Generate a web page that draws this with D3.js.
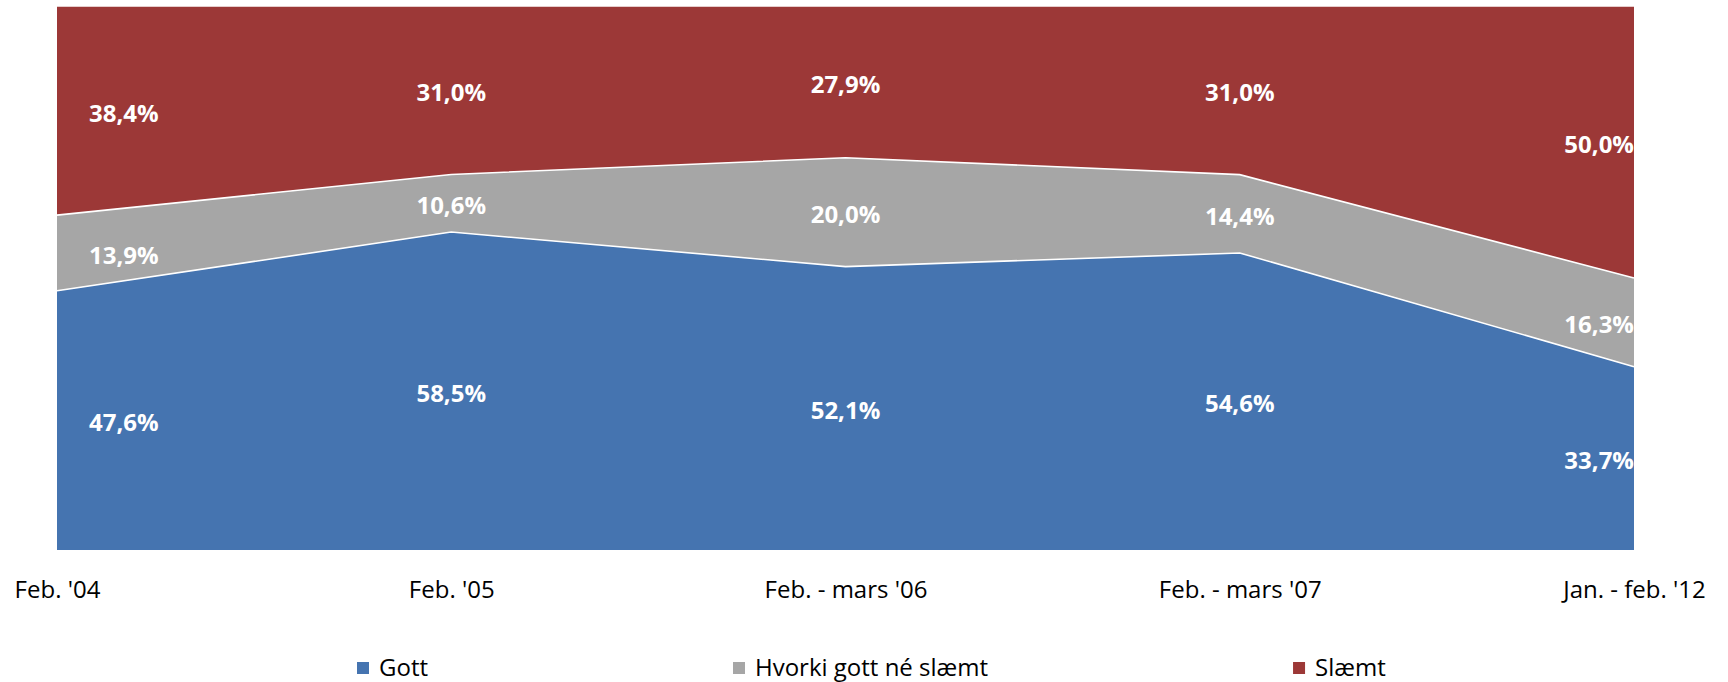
<!DOCTYPE html>
<html>
<head>
<meta charset="utf-8">
<script src="https://cdn.jsdelivr.net/npm/d3@7"></script>
<style>
  html, body { margin: 0; padding: 0; background: #fff; }
  svg { display: block; font-family: 'Open Sans', sans-serif; }
</style>
</head>
<body>
<svg id="chart" width="1728" height="682"></svg>
<script>
const categories = ["Feb. '04", "Feb. '05", "Feb. - mars '06", "Feb. - mars '07", "Jan. - feb. '12"];
const seriesNames = ['Gott', 'Hvorki gott né slæmt', 'Slæmt'];
const gott = [47.6, 58.5, 52.1, 54.6, 33.7];
const hvorki = [13.9, 10.6, 20.0, 14.4, 16.3];
const slaemt = [38.4, 31.0, 27.9, 31.0, 50.0];
const colors = ['#4574b0', '#a6a6a6', '#9c3837'];

const width = 1728, height = 682;
const margin = { top: 6, right: 94, bottom: 132, left: 57 };

const rows = categories.map((c, i) => ({
    cat: c, 'Gott': gott[i], 'Hvorki gott né slæmt': hvorki[i], 'Slæmt': slaemt[i]
}));

const svg = d3.select('#chart');

const x = d3.scalePoint()
    .domain(categories)
    .range([margin.left, width - margin.right]);

const y = d3.scaleLinear()
    .domain([0, 1])
    .range([height - margin.bottom, margin.top]);

const stacked = d3.stack()
    .keys(seriesNames)
    .offset(d3.stackOffsetExpand)(rows);

const area = d3.area()
    .x(d => x(d.data.cat))
    .y0(d => y(d[0]))
    .y1(d => y(d[1]));

const topLine = d3.line()
    .x(d => x(d.data.cat))
    .y(d => y(d[1]));

svg.append('g')
    .selectAll('path')
    .data(stacked)
    .join('path')
    .attr('fill', (d, i) => colors[i])
    .attr('d', area);

svg.append('g')
    .selectAll('path')
    .data(stacked)
    .join('path')
    .attr('fill', 'none')
    .attr('stroke', '#fff')
    .attr('stroke-width', 1.6)
    .attr('d', topLine);

// data labels
const lastIdx = categories.length - 1;
stacked.forEach(s => {
    svg.append('g')
        .selectAll('text')
        .data(s)
        .join('text')
        .attr('x', (d, i) => i === 0 ? x(d.data.cat) + 32 : x(d.data.cat))
        .attr('y', d => (y(d[0]) + y(d[1])) / 2 + 11)
        .attr('text-anchor', (d, i) => i === 0 ? 'start' : (i === lastIdx ? 'end' : 'middle'))
        .attr('font-size', 24)
        .attr('font-weight', 'bold')
        .attr('fill', '#fff')
        .text(d => d.data[s.key].toFixed(1).replace('.', ',') + '%');
});

// x axis labels
svg.append('g')
    .attr('transform', `translate(0,${height - margin.bottom})`)
    .call(d3.axisBottom(x).tickSize(0).tickPadding(48))
    .call(g => g.select('.domain').remove())
    .call(g => g.selectAll('text')
        .attr('font-size', 24)
        .attr('font-family', "'Open Sans', sans-serif")
        .attr('fill', '#000')
        .attr('dy', 0));

// legend
const legend = svg.append('g').attr('transform', 'translate(357,676)');
let lx = 0;
seriesNames.forEach((name, i) => {
    const item = legend.append('g').attr('transform', `translate(${lx},0)`);
    item.append('rect')
        .attr('x', 0).attr('y', -14)
        .attr('width', 12).attr('height', 12)
        .attr('fill', colors[i]);
    const t = item.append('text')
        .attr('x', 22).attr('y', 0)
        .attr('font-size', 24)
        .attr('fill', '#000')
        .text(name);
    lx += 22 + t.node().getComputedTextLength() + 305;
});
</script>
</body>
</html>
